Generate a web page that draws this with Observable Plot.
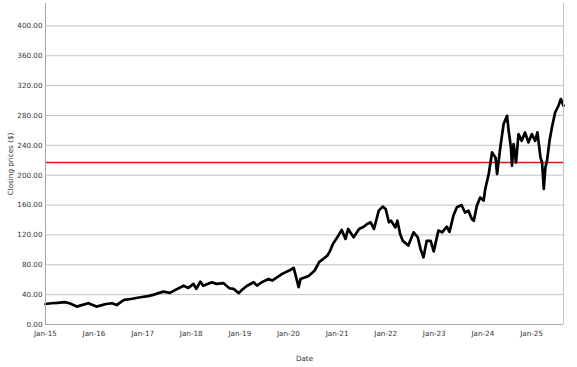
<!DOCTYPE html>
<html>
<head>
<meta charset="utf-8">
<script src="https://cdn.jsdelivr.net/npm/d3@7"></script>
<script src="https://cdn.jsdelivr.net/npm/@observablehq/plot@0.6"></script>
<style>
  html, body { margin: 0; padding: 0; background: #ffffff; }
  #chart { width: 577px; height: 367px; }
</style>
</head>
<body>
<div id="chart"></div>
<script>
// Closing price series
const dates = [
  "2015-01-02","2015-02-15","2015-04-01","2015-05-25","2015-07-01","2015-08-25","2015-10-01","2015-11-20",
  "2016-01-20","2016-03-01","2016-04-01","2016-05-15","2016-06-20","2016-07-20","2016-08-15","2016-10-15","2016-12-15",
  "2017-02-10","2017-03-20","2017-06-05","2017-07-25","2017-09-01","2017-11-05","2017-12-10",
  "2018-01-18","2018-02-08","2018-03-10","2018-04-01","2018-06-05","2018-07-10","2018-09-01","2018-10-15","2018-11-15","2018-12-24",
  "2019-01-20","2019-02-25","2019-04-15","2019-05-10","2019-06-15","2019-08-05","2019-09-01","2019-11-15",
  "2020-01-15","2020-02-10","2020-03-18","2020-04-01","2020-06-01","2020-07-15","2020-08-20","2020-09-20","2020-10-20","2020-11-10","2020-12-01",
  "2021-01-10","2021-02-05","2021-03-05","2021-03-25","2021-05-05","2021-06-15","2021-07-20","2021-08-15","2021-09-10","2021-10-05","2021-11-10","2021-12-10",
  "2022-01-01","2022-01-25","2022-02-10","2022-03-15","2022-03-30","2022-04-20","2022-05-10","2022-06-20","2022-07-30","2022-08-30","2022-09-20","2022-10-12","2022-11-05","2022-12-05","2022-12-28",
  "2023-02-01","2023-03-01","2023-04-05","2023-04-25","2023-05-10","2023-05-25","2023-06-20","2023-07-25","2023-08-20","2023-09-15","2023-10-10","2023-10-25","2023-11-17","2023-12-12",
  "2024-01-07","2024-01-19","2024-02-14","2024-03-10","2024-04-05","2024-04-17","2024-05-11","2024-06-05","2024-07-01","2024-07-13","2024-07-30","2024-08-07","2024-08-19","2024-09-06","2024-09-25","2024-10-19","2024-11-13","2024-12-08",
  "2025-01-03","2025-01-28","2025-02-14","2025-03-09","2025-03-21","2025-04-03","2025-04-15","2025-04-27","2025-05-16","2025-06-03","2025-06-27","2025-07-22","2025-08-09","2025-08-29"
];
const prices = [
  27.5,28.5,29,30,28.5,24,26,28.5,
  24,26,27.5,28.5,26,30,33,34.5,36.5,
  38,39.7,44,42.4,46,52,49,
  54.4,47.7,57.5,52,56.6,54.4,55.3,48.6,47.7,42,
  46.8,52,56.6,52,56.6,61,58.9,67.8,
  73,75.8,50,61,65,72,84,88,92.3,99,108,
  119,126.7,114.6,128,116.8,128,131,134.7,136.9,128,152.5,157.9,
  154.8,136.9,139,130,139,121,112,105.7,123.5,116.8,101,90,112,112,98,
  125.8,123.5,131,124,134.7,146,157,160,150,152.5,141.4,139,159,170,
  166,181.5,201.6,230.5,223.8,201.6,237,268.5,279.6,259.5,237,212.7,241.7,217,255,246,257.3,243.9,
  255,246,257.3,223.8,217,181.5,210.4,219.4,246,264,284,293,302,293
];
const yTicks = [0, 40, 80, 120, 160, 200, 240, 280, 320, 360, 400];
const xTickDates = ["2015-01-01","2016-01-01","2017-01-01","2018-01-01","2019-01-01","2020-01-01","2021-01-01","2022-01-01","2023-01-01","2024-01-01","2025-01-01"];
const referenceLevel = 217;

const data = dates.map((d, i) => ({date: new Date(d), close: prices[i]}));
const xStart = data[0].date, xEnd = data[data.length - 1].date;

const chart = Plot.plot({
  width: 577,
  height: 367,
  marginTop: 3,
  marginRight: 14,
  marginBottom: 43,
  marginLeft: 45,
  style: {fontFamily: "'DejaVu Sans', sans-serif", fontSize: "7.2px", background: "#ffffff", color: "#333333", overflow: "visible"},
  x: {
    type: "utc",
    domain: [xStart, xEnd],
    ticks: xTickDates.map(d => new Date(d)),
    tickFormat: d3.utcFormat("%b-%y"),
    tickSize: 0,
    tickPadding: 6,
    label: "Date",
    labelArrow: "none",
    labelAnchor: "center",
    labelOffset: 36
  },
  y: {
    domain: [0, 430],
    ticks: yTicks,
    tickFormat: d3.format(".2f"),
    tickSize: 0,
    tickPadding: 3,
    label: "Closing prices ($)",
    labelArrow: "none",
    labelAnchor: "center",
    labelOffset: 38
  },
  marks: [
    Plot.ruleY(yTicks.slice(1), {stroke: "#c4c4c4", strokeWidth: 1}),
    Plot.ruleY([referenceLevel], {stroke: "#e01818", strokeWidth: 1.6}),
    Plot.lineY(data, {x: "date", y: "close", stroke: "#000000", strokeWidth: 2.7, strokeLinejoin: "round"}),
    Plot.ruleX([xStart], {stroke: "#a8a8a8"}),
    Plot.ruleX([xEnd], {stroke: "#c4c4c4"}),
    Plot.ruleY([0], {stroke: "#a8a8a8"})
  ]
});
document.getElementById("chart").appendChild(chart);
</script>
</body>
</html>
